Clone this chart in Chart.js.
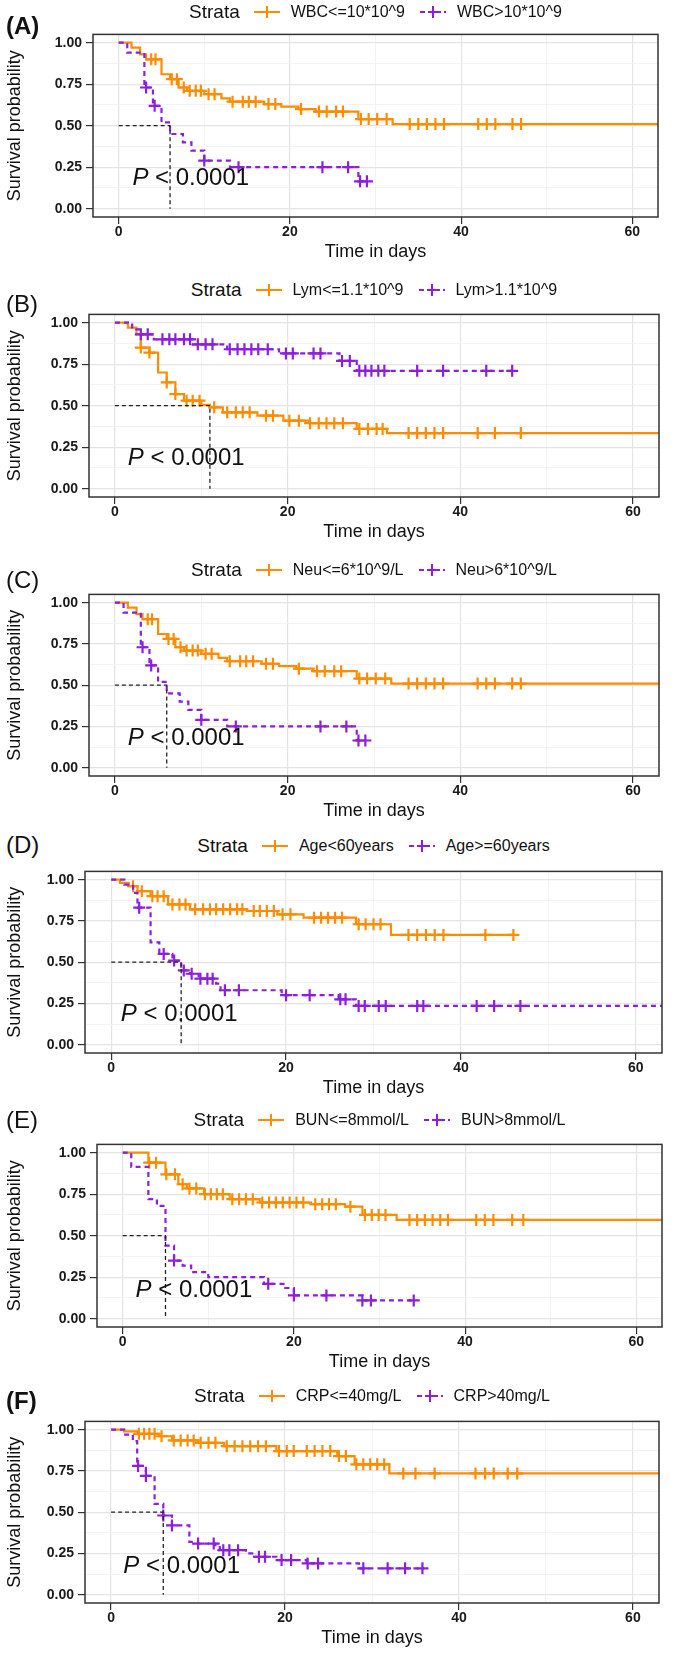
<!DOCTYPE html>
<html>
<head>
<meta charset="utf-8">
<script src="https://cdn.jsdelivr.net/npm/chart.js@4.4.1/dist/chart.umd.min.js"></script>
<style>
  body { margin: 0; background: #fff; }
  #page { position: relative; width: 685px; height: 1661px; overflow: hidden;
          font-family: "Liberation Sans", Arial, sans-serif; color: #111; }
  canvas { position: absolute; left: 0; }
  .lbl { position: absolute; left: 6px; font-size: 24px; line-height: 28px; }
  .leg { position: absolute; height: 24px; display: flex; align-items: center;
         justify-content: center; white-space: nowrap; }
  .leg .t { font-size: 19px; margin-right: 13px; }
  .leg .s { font-size: 16px; margin: 0 14px 0 10px; }
  .leg svg { display: block; }
  .pv { position: absolute; font-size: 24px; line-height: 28px; white-space: nowrap; }
</style>
</head>
<body>
<div id="page"></div>
<script>
// Kaplan-Meier Kurven, 6 Panels (A-F)

const panelLabels = ["(A)", "(B)", "(C)", "(D)", "(E)", "(F)"];
const strataLow = ["WBC<=10*10^9", "Lym<=1.1*10^9", "Neu<=6*10^9/L", "Age<60years", "BUN<=8mmol/L", "CRP<=40mg/L"];
const strataHigh = ["WBC>10*10^9", "Lym>1.1*10^9", "Neu>6*10^9/L", "Age>=60years", "BUN>8mmol/L", "CRP>40mg/L"];
const xTickValues = [0, 10, 20, 30, 40, 50, 60];      // 10/30/50 = minor grid
const yTickValues = [0, 0.125, 0.25, 0.375, 0.5, 0.625, 0.75, 0.875, 1];
const medians = [6, 11, 6, 8, 5, 6];
const pLabel = "0.0001";
const pX = [1.6, 1.5, 1.5, 1.1, 1.5, 1.4];
const pY = [0.19, 0.19, 0.186, 0.19, 0.18, 0.18];

// (A) WBC
const wbcLowT = [1.5, 2.5, 3.2, 5, 6, 7, 8, 10, 12, 13, 17, 19, 21, 23, 28, 32];
const wbcLowS = [0.97, 0.93, 0.90, 0.81, 0.78, 0.73, 0.71, 0.69, 0.665, 0.645, 0.63, 0.615, 0.60, 0.585, 0.54, 0.51];
const wbcLowC = [3.8, 4.3, 6.2, 6.8, 7.6, 8.3, 9, 9.6, 10.5, 11.2, 13.3, 14.5, 15.2, 16, 17.5, 18.3, 21.3, 23.4, 24.3, 25.4, 26.2, 28.3, 29.2, 30.2, 31.3, 34, 35, 36, 37, 38, 42, 43, 44, 46, 47];
const wbcHighT = [1, 3, 4, 5, 6, 7.5, 8.5, 10, 13, 28];
const wbcHighS = [0.94, 0.73, 0.62, 0.52, 0.45, 0.40, 0.35, 0.29, 0.25, 0.165];
const wbcHighC = [3.2, 4.2, 10, 14, 23.8, 26.8, 28.2, 29];

// (B) Lym
const lymLowT = [1.5, 2.5, 3, 4, 5, 6, 7, 8, 10, 11, 12.5, 16.5, 19.5, 22.5, 28, 31.5];
const lymLowS = [0.97, 0.93, 0.85, 0.82, 0.70, 0.64, 0.57, 0.53, 0.505, 0.49, 0.46, 0.44, 0.41, 0.395, 0.36, 0.335];
const lymLowC = [3, 4, 6, 7, 8.3, 9, 9.8, 11.5, 13, 14, 14.8, 15.6, 17.5, 18.3, 20.2, 21.3, 22.6, 23.6, 24.5, 25.4, 26.4, 28.3, 29.3, 30.3, 31, 34, 35, 36, 37, 38, 42, 44, 47];
const lymHighT = [2, 3, 4.5, 9, 13, 19, 26, 28];
const lymHighS = [0.96, 0.93, 0.90, 0.87, 0.84, 0.815, 0.77, 0.71];
const lymHighC = [3, 3.8, 5.5, 6.3, 7, 8, 8.7, 9.6, 10.5, 11.3, 13.3, 14.2, 15, 15.8, 16.6, 17.7, 19.8, 20.6, 23, 23.8, 26.3, 27.2, 28.3, 29, 29.7, 30.5, 31.2, 35, 38, 43, 46];

// (C) Neu - im Bild identisch mit (A)
const neuLowT = wbcLowT, neuLowS = wbcLowS, neuLowC = wbcLowC;
const neuHighT = wbcHighT, neuHighS = wbcHighS, neuHighC = wbcHighC;

// (D) Age
const ageLowT = [1, 2, 3, 4.5, 6.5, 9, 15.5, 19, 22, 28, 32];
const ageLowS = [0.98, 0.96, 0.93, 0.90, 0.85, 0.82, 0.81, 0.79, 0.77, 0.73, 0.665];
const ageLowC = [2.5, 3.5, 4.7, 5.3, 6, 7, 7.8, 8.5, 9.6, 10.5, 11.3, 12, 12.8, 13.6, 14.4, 15, 16.3, 17, 17.8, 18.6, 19.6, 20.5, 23.2, 24, 24.8, 25.6, 26.4, 28.3, 29.1, 30, 30.8, 34, 35, 36, 37, 38, 42.8, 46];
const ageHighT = [1.5, 2.5, 3, 4.5, 5.5, 7, 8, 9, 10, 12, 12.5, 19.5, 26, 28];
const ageHighS = [0.97, 0.92, 0.83, 0.62, 0.55, 0.51, 0.45, 0.43, 0.40, 0.37, 0.33, 0.30, 0.275, 0.235];
const ageHighC = [3.2, 6, 7.2, 8.3, 9.2, 10.2, 11, 11.6, 13, 14.6, 20, 22.7, 26.2, 26.8, 28.3, 29, 30.6, 31.4, 35, 35.7, 41.8, 43.8, 46.8];

// (E) BUN
const bunLowT = [3, 5, 6.5, 7.5, 9.5, 12.5, 16, 22, 26, 28, 32];
const bunLowS = [0.94, 0.87, 0.81, 0.785, 0.75, 0.72, 0.70, 0.69, 0.675, 0.625, 0.595];
const bunLowC = [3.1, 3.9, 5.1, 6.1, 7, 7.8, 8.6, 9.6, 10.3, 11, 11.7, 12.8, 13.6, 14.4, 15.2, 16.3, 17.1, 17.9, 18.7, 19.5, 20.3, 21.1, 22.5, 23.3, 24.1, 24.9, 26.6, 28.3, 29.1, 29.9, 30.7, 33.5, 34.4, 35.3, 36.2, 37.1, 38, 41.3, 42.3, 43.3, 45.5, 46.8];
const bunHighT = [1, 3, 4, 5, 6, 7, 8, 10, 16.5, 19, 20, 28];
const bunHighS = [0.915, 0.72, 0.68, 0.44, 0.35, 0.32, 0.28, 0.25, 0.21, 0.185, 0.14, 0.11];
const bunHighC = [6, 17, 20, 23.8, 28, 29, 34];

// (F) CRP
const crpLowT = [1.5, 3, 5.5, 7, 10, 13, 19, 26, 28, 32];
const crpLowS = [0.99, 0.975, 0.96, 0.935, 0.92, 0.90, 0.87, 0.84, 0.79, 0.735];
const crpLowC = [3.2, 3.8, 4.4, 5, 5.8, 7.2, 8, 8.8, 9.5, 10.3, 11.2, 12, 13.3, 14.2, 15.1, 16, 16.9, 17.8, 19.3, 20.2, 21, 22.5, 23.4, 24.3, 25.2, 26.2, 27, 28.2, 29, 29.8, 30.6, 31.4, 33.6, 35, 37.2, 41.9, 43, 44, 45.6, 46.7];
const crpHighT = [1.5, 2.5, 3, 4, 5, 6, 7, 9, 10, 12, 12.5, 15.5, 16.5, 19, 22.5, 28.5];
const crpHighS = [0.97, 0.93, 0.78, 0.72, 0.55, 0.48, 0.42, 0.32, 0.31, 0.30, 0.27, 0.25, 0.23, 0.21, 0.19, 0.16];
const crpHighC = [3.1, 4, 6, 7, 10, 11.8, 12.9, 13.6, 14.6, 17, 17.7, 19.6, 20.7, 22.6, 23.8, 29, 31.8, 33.8, 35.8];

// letzter Beobachtungszeitpunkt je Kurve [niedrig, hoch]
const lastFollowUp = [[63, 29], [63, 46], [63, 29], [46, 63], [63, 34], [63, 36]];

const curves = [
  [[wbcLowT, wbcLowS, wbcLowC], [wbcHighT, wbcHighS, wbcHighC]],
  [[lymLowT, lymLowS, lymLowC], [lymHighT, lymHighS, lymHighC]],
  [[neuLowT, neuLowS, neuLowC], [neuHighT, neuHighS, neuHighC]],
  [[ageLowT, ageLowS, ageLowC], [ageHighT, ageHighS, ageHighC]],
  [[bunLowT, bunLowS, bunLowC], [bunHighT, bunHighS, bunHighC]],
  [[crpLowT, crpLowS, crpLowC], [crpHighT, crpHighS, crpHighC]]
];

// Layout: Plotrahmen [links, rechts, oben, unten] in px, Abstand Panel-Label ueber Rahmen
const boxes = [[93, 658, 32, 217], [89, 659, 312, 497], [89, 659, 592, 776],
               [85, 662, 869, 1053], [97, 662, 1142, 1327], [85, 659, 1419, 1603]];
const labelLift = [6, 8, 12, 24, 22, 18];
const legendLift = [20, 22, 22, 23, 22, 23];
const labelBold = [true, false, false, false, false, true];

const ORANGE = "#FF8C00";
const PURPLE = "#8C1EDC";
const PAD_TOP = 10;
const X_AXIS_H = 48;

const page = document.getElementById("page");

function stepData(times, surv, end) {
  const pts = [{ x: 0, y: 1 }];
  times.forEach((t, i) => pts.push({ x: t, y: surv[i] }));
  pts.push({ x: end, y: surv[surv.length - 1] });
  return pts;
}

// Wert der Treppenfunktion zum Zeitpunkt t (fuer Zensur-Kreuze)
function survAt(times, surv, t) {
  let s = 1;
  times.forEach((ti, i) => { if (ti <= t) s = surv[i]; });
  return s;
}

const framePlugin = {
  id: "frame",
  afterDatasetsDraw(chart) {
    const { ctx, chartArea: a } = chart;
    ctx.save();
    ctx.strokeStyle = "#333";
    ctx.lineWidth = 1.5;
    ctx.strokeRect(a.left, a.top, a.right - a.left, a.bottom - a.top);
    ctx.restore();
  }
};

function legendSymbol(color, dashed) {
  const dash = dashed ? ' stroke-dasharray="5 3"' : "";
  return `<svg width="28" height="16"><line x1="1" y1="8" x2="27" y2="8" stroke="${color}" stroke-width="2"${dash}/>` +
         `<line x1="14" y1="2" x2="14" y2="14" stroke="${color}" stroke-width="2"/><line x1="9" y1="8" x2="19" y2="8" stroke="${color}" stroke-width="2"/></svg>`;
}

const isMajorX = v => v % 20 === 0;
const isMajorY = v => Math.abs(v * 4 - Math.round(v * 4)) < 1e-6;

boxes.forEach((box, i) => {
  const [left, right, top, bottom] = box;
  const canvasTop = top - PAD_TOP;
  const h = PAD_TOP + (bottom - top) + X_AXIS_H;

  const canvas = document.createElement("canvas");
  canvas.width = 685;
  canvas.height = h;
  canvas.style.top = canvasTop + "px";
  page.appendChild(canvas);

  const [low, high] = curves[i];
  const [endLow, endHigh] = lastFollowUp[i];
  const m = medians[i];

  const chart = new Chart(canvas.getContext("2d"), {
    type: "line",
    data: {
      datasets: [
        { data: [{ x: 0, y: 0.5 }, { x: m, y: 0.5 }, { x: m, y: 0 }], borderColor: "#222", borderWidth: 1.3,
          borderDash: [4, 3], pointRadius: 0, fill: false },
        { data: high[2].map(t => ({ x: t, y: survAt(high[0], high[1], t) })), showLine: false,
          pointStyle: "cross", pointRadius: 6, pointBorderWidth: 2.2, pointBorderColor: PURPLE, borderColor: PURPLE },
        { data: stepData(high[0], high[1], endHigh), stepped: true, borderColor: PURPLE, borderWidth: 2.2,
          borderDash: [5, 4], pointRadius: 0, fill: false },
        { data: low[2].map(t => ({ x: t, y: survAt(low[0], low[1], t) })), showLine: false,
          pointStyle: "cross", pointRadius: 6, pointBorderWidth: 2.2, pointBorderColor: ORANGE, borderColor: ORANGE },
        { data: stepData(low[0], low[1], endLow), stepped: true, borderColor: ORANGE, borderWidth: 2.2,
          pointRadius: 0, fill: false }
      ]
    },
    options: {
      responsive: false,
      animation: false,
      devicePixelRatio: 1,
      events: [],
      layout: { padding: { top: PAD_TOP, right: 685 - right, left: 0, bottom: 0 }, autoPadding: false },
      plugins: { legend: { display: false }, tooltip: { enabled: false } },
      scales: {
        x: {
          type: "linear", min: -3, max: 63,
          afterBuildTicks: ax => { ax.ticks = xTickValues.map(v => ({ value: v })); },
          afterFit: ax => { ax.height = X_AXIS_H; },
          border: { display: false },
          grid: {
            color: c => isMajorX(c.tick.value) ? "#e4e4e4" : "#f0f0f0",
            lineWidth: c => isMajorX(c.tick.value) ? 1.2 : 0.8,
            tickColor: c => isMajorX(c.tick.value) ? "#333" : "rgba(0,0,0,0)",
            tickLength: 7, tickWidth: 1.2
          },
          ticks: {
            autoSkip: false, maxRotation: 0, padding: 0, color: "#1a1a1a",
            font: { size: 14, weight: "bold" },
            callback: v => isMajorX(v) ? String(v) : ""
          },
          title: { display: true, text: "Time in days", color: "#111", font: { size: 18 }, padding: { top: 0, bottom: 2 } }
        },
        y: {
          type: "linear", min: -0.05, max: 1.05,
          afterBuildTicks: ax => { ax.ticks = yTickValues.map(v => ({ value: v })); },
          afterFit: ax => { ax.width = left; },
          border: { display: false },
          grid: {
            color: c => isMajorY(c.tick.value) ? "#e4e4e4" : "#f0f0f0",
            lineWidth: c => isMajorY(c.tick.value) ? 1.2 : 0.8,
            tickColor: c => isMajorY(c.tick.value) ? "#333" : "rgba(0,0,0,0)",
            tickLength: 7, tickWidth: 1.2
          },
          ticks: {
            autoSkip: false, padding: 4, color: "#1a1a1a",
            font: { size: 14, weight: "bold" },
            callback: v => isMajorY(v) ? v.toFixed(2) : ""
          },
          title: { display: true, text: "Survival probability", color: "#111", font: { size: 18 }, padding: { top: 4, bottom: 0 } }
        }
      }
    },
    plugins: [framePlugin]
  });

  // Panel-Label
  const lbl = document.createElement("div");
  lbl.className = "lbl";
  lbl.textContent = panelLabels[i];
  lbl.style.top = (top - labelLift[i] - 14) + "px";
  if (labelBold[i]) lbl.style.fontWeight = "bold";
  page.appendChild(lbl);

  // Legende "Strata"
  const leg = document.createElement("div");
  leg.className = "leg";
  leg.style.left = left + "px";
  leg.style.width = (right - left) + "px";
  leg.style.top = (top - legendLift[i] - 12) + "px";
  leg.innerHTML = `<span class="t">Strata</span>${legendSymbol(ORANGE, false)}<span class="s"></span>` +
                  `${legendSymbol(PURPLE, true)}<span class="s" style="margin-right:0"></span>`;
  const spans = leg.querySelectorAll(".s");
  spans[0].textContent = strataLow[i];
  spans[1].textContent = strataHigh[i];
  page.appendChild(leg);

  // p-Wert
  const pv = document.createElement("div");
  pv.className = "pv";
  pv.innerHTML = `<i>P</i> &lt; ${pLabel}`;
  pv.style.left = chart.scales.x.getPixelForValue(pX[i]) + "px";
  pv.style.top = (canvasTop + chart.scales.y.getPixelForValue(pY[i]) - 14) + "px";
  page.appendChild(pv);
});
</script>
</body>
</html>
